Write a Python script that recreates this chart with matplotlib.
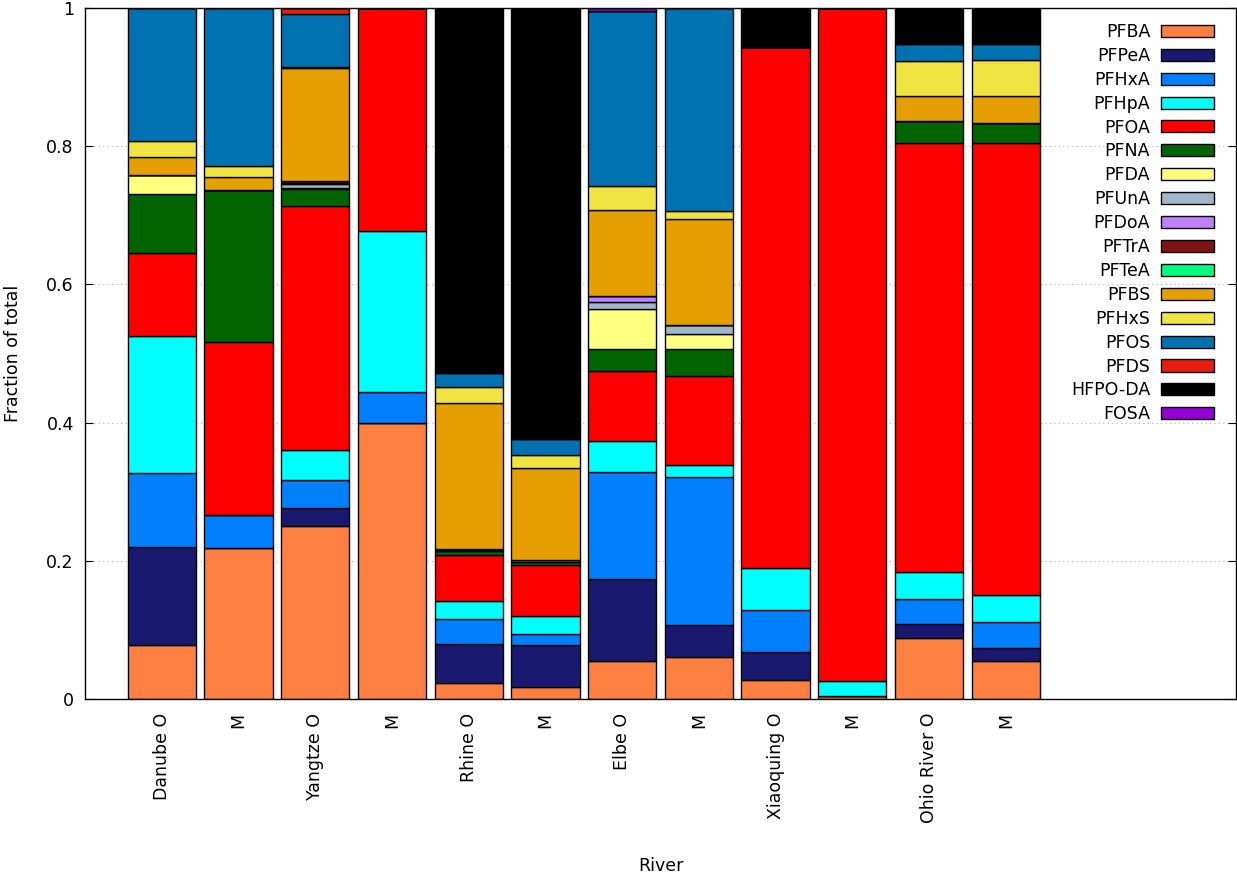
import numpy as np
import matplotlib
matplotlib.use('Agg')
import matplotlib.pyplot as plt
from matplotlib.ticker import FormatStrFormatter

bars = ['Danube O', 'M', 'Yangtze O', 'M', 'Rhine O', 'M', 'Elbe O', 'M',
        'Xiaoquing O', 'M', 'Ohio River O', 'M']

compounds = ['PFBA', 'PFPeA', 'PFHxA', 'PFHpA', 'PFOA', 'PFNA', 'PFDA', 'PFUnA',
             'PFDoA', 'PFTrA', 'PFTeA', 'PFBS', 'PFHxS', 'PFOS', 'PFDS', 'HFPO-DA', 'FOSA']

pfba = [.078, .218, .250, .399, .023, .017, .055, .061, .027, .004, .088, .055]
pfpea = [.142, 0, .026, 0, .057, .061, .118, .046, .041, 0, .020, .019]
pfhxa = [.107, .049, .041, .045, .036, .016, .155, .215, .061, 0, .037, .037]
pfhpa = [.199, 0, .044, .233, .026, .026, .046, .016, .060, .022, .039, .039]
pfoa = [.120, .249, .353, .323, .066, .074, .100, .129, .754, .974, .621, .654]
pfna = [.085, .221, .024, 0, .006, .004, .033, .039, 0, 0, .031, .030]
pfda = [.027, 0, .001, 0, .001, .003, .057, .022, 0, 0, 0, 0]
pfuna = [0, 0, .006, 0, .001, 0, .010, .013, 0, 0, 0, 0]
pfdoa = [0, 0, .002, 0, .001, 0, .009, 0, 0, 0, 0, 0]
pftra = [0, 0, .002, 0, 0, 0, 0, 0, 0, 0, 0, 0]
pftea = [0, 0, .001, 0, 0, 0, 0, 0, 0, 0, 0, 0]
pfbs = [.027, .019, .163, 0, .211, .134, .125, .153, 0, 0, .036, .039]
pfhxs = [.022, .016, .002, 0, .023, .018, .035, .012, 0, 0, .052, .052]
pfos = [.193, .228, .077, 0, .021, .024, .253, .294, .002, 0, .024, .023]
pfds = [0, 0, .008, 0, 0, 0, 0, 0, 0, 0, 0, 0]
hfpo_da = [0, 0, 0, 0, .528, .623, 0, 0, .055, 0, .052, .052]
fosa = [0, 0, 0, 0, 0, 0, .004, 0, 0, 0, 0, 0]

series = [pfba, pfpea, pfhxa, pfhpa, pfoa, pfna, pfda, pfuna, pfdoa, pftra, pftea,
          pfbs, pfhxs, pfos, pfds, hfpo_da, fosa]

colors = ['#ff8040', '#191970', '#0080ff', '#00ffff', '#ff0000', '#006400', '#ffff80',
          '#a0b6cd', '#c080ff', '#801414', '#00ff7f', '#e69f00', '#f0e442', '#0072b2',
          '#e51e10', '#000000', '#9400d3']

fs = 12.5

fig = plt.figure(figsize=(12.37, 8.73), dpi=100)
ax = fig.add_axes([0.0687, 0.1993, 0.9305, 0.7915])

x = np.arange(len(bars))
bottom = np.zeros(len(bars))
for name, vals, c in zip(compounds, series, colors):
    vals = np.array(vals)
    ax.bar(x, vals, width=0.89, bottom=bottom, color=c, edgecolor='black',
           linewidth=1.0, label=name, zorder=2)
    bottom += vals

ax.set_xlim(-1, 14)
ax.set_ylim(0, 1)
ax.set_yticks([0, 0.2, 0.4, 0.6, 0.8, 1])
ax.yaxis.set_major_formatter(FormatStrFormatter('%g'))
ax.set_xticks(x)
ax.set_xticklabels(bars, rotation=90, fontsize=fs)
ax.tick_params(axis='x', length=0, pad=10)
ax.tick_params(axis='y', direction='in', length=6, right=True, labelsize=fs, pad=8)
ax.yaxis.grid(True, linestyle=(0, (1, 3)), color='#b0b0b0', linewidth=0.8, zorder=0)
ax.set_axisbelow(True)
for s in ax.spines.values():
    s.set_linewidth(1.0)

ax.set_xlabel('River', fontsize=fs)
ax.xaxis.set_label_coords(0.5, -0.2417)
ax.xaxis.label.set_verticalalignment('center')
ax.set_ylabel('Fraction of total', fontsize=fs)
ax.yaxis.label.set_verticalalignment('center')
ax.yaxis.set_label_coords(-0.0625, 0.5)

ax.legend(loc='upper right', frameon=False, markerfirst=False, fontsize=fs,
          handlelength=3.05, handleheight=0.69, labelspacing=0.34, handletextpad=0.63,
          borderaxespad=0.3, bbox_to_anchor=(0.9915, 0.996))

fig.savefig('out.png', dpi=100)
